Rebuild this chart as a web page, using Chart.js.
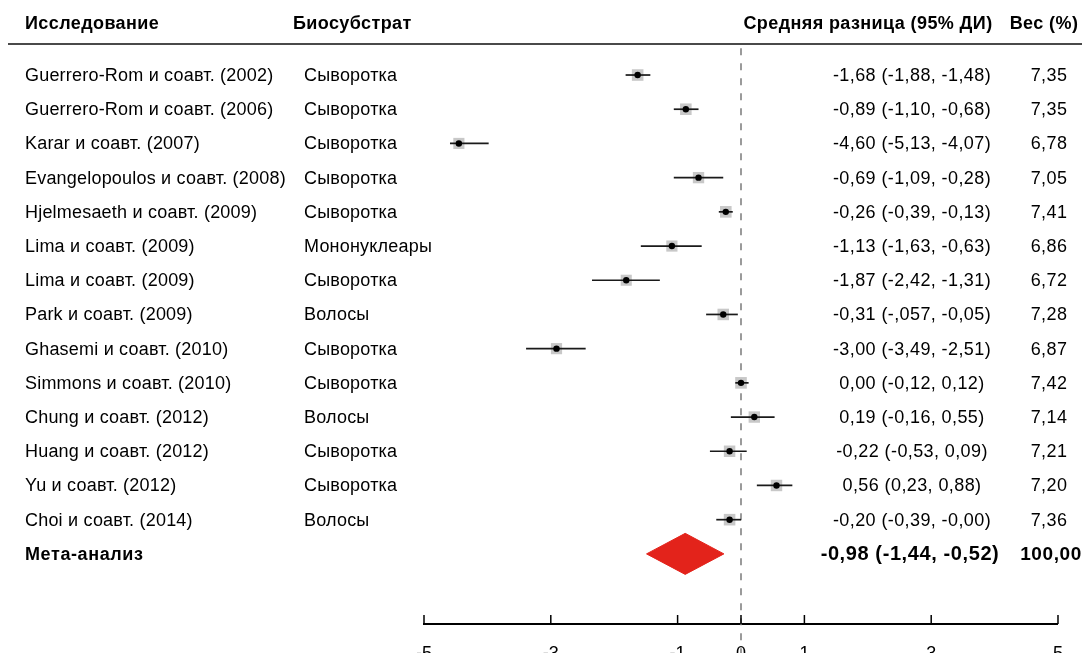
<!DOCTYPE html>
<html>
<head>
<meta charset="utf-8">
<script src="https://cdn.jsdelivr.net/npm/chart.js@4.4.1/dist/chart.umd.min.js"></script>
<style>
  html, body { margin: 0; padding: 0; background: #fff; overflow: hidden; }
  #wrap { width: 1082px; height: 664px; position: relative; }
</style>
</head>
<body>
<div id="wrap"><canvas id="forest"></canvas></div>
<script>
// rows, top to bottom
const studies = [
    'Guerrero-Rom и соавт. (2002)', 'Guerrero-Rom и соавт. (2006)', 'Karar и соавт. (2007)',
    'Evangelopoulos и соавт. (2008)', 'Hjelmesaeth и соавт. (2009)', 'Lima и соавт. (2009)',
    'Lima и соавт. (2009)', 'Park и соавт. (2009)', 'Ghasemi и соавт. (2010)',
    'Simmons и соавт. (2010)', 'Chung и соавт. (2012)', 'Huang и соавт. (2012)',
    'Yu и соавт. (2012)', 'Choi и соавт. (2014)'
];
const substrates = [
    'Сыворотка', 'Сыворотка', 'Сыворотка', 'Сыворотка', 'Сыворотка', 'Мононуклеары',
    'Сыворотка', 'Волосы', 'Сыворотка', 'Сыворотка', 'Волосы', 'Сыворотка',
    'Сыворотка', 'Волосы'
];
// positions of the marks as drawn
const estimates = [-1.63, -0.87, -4.45, -0.67, -0.24, -1.09, -1.81, -0.28, -2.91, 0.00, 0.21, -0.18, 0.56, -0.18];
const lower     = [-1.82, -1.06, -4.59, -1.06, -0.35, -1.58, -2.35, -0.55, -3.39, -0.09, -0.16, -0.49, 0.25, -0.39];
const upper     = [-1.43, -0.67, -3.98, -0.28, -0.13, -0.62, -1.28, -0.05, -2.45, 0.12, 0.53, 0.09, 0.81, 0.00];
// printed column
const mdLabels = [
    '-1,68 (-1,88, -1,48)', '-0,89 (-1,10, -0,68)', '-4,60 (-5,13, -4,07)', '-0,69 (-1,09, -0,28)',
    '-0,26 (-0,39, -0,13)', '-1,13 (-1,63, -0,63)', '-1,87 (-2,42, -1,31)', '-0,31 (-,057, -0,05)',
    '-3,00 (-3,49, -2,51)', '0,00 (-0,12, 0,12)', '0,19 (-0,16, 0,55)', '-0,22 (-0,53, 0,09)',
    '0,56 (0,23, 0,88)', '-0,20 (-0,39, -0,00)'
];
const weights = [7.35, 7.35, 6.78, 7.05, 7.41, 6.86, 6.72, 7.28, 6.87, 7.42, 7.14, 7.21, 7.20, 7.36];

const metaName = 'Мета-анализ';
const metaDiamond = [-1.49, -0.88, -0.27]; // low, centre, high as drawn
const metaText = '-0,98 (-1,44, -0,52)';
const metaWeight = '100,00';

const headers = ['Исследование', 'Биосубстрат', 'Средняя разница (95% ДИ)', 'Вес (%)'];
const xTicks = [-5, -3, -1, 0, 1, 3, 5];

const FONT = "'Liberation Sans', Arial, sans-serif";
Chart.defaults.font.family = FONT;

const metaRow = studies.length;

// one small line dataset per confidence interval
const ciSets = studies.map((s, i) => ({
    type: 'scatter',
    showLine: true,
    data: [{ x: lower[i], y: i }, { x: upper[i], y: i }],
    borderColor: '#1a1a1a',
    borderWidth: 1.7,
    pointRadius: 0,
    order: 1
}));

const squareSet = {
    type: 'scatter',
    data: estimates.map((v, i) => ({ x: v, y: i })),
    pointStyle: 'rect',
    pointRadius: weights.map(w => 8.1 * Math.sqrt(w / 7.2)),
    backgroundColor: '#c8c8c8',
    borderWidth: 0,
    order: 2
};

const dotSet = {
    type: 'scatter',
    data: estimates.map((v, i) => ({ x: v, y: i })),
    pointStyle: 'circle',
    pointRadius: 3.2,
    backgroundColor: '#000',
    borderWidth: 0,
    order: 0
};

const diamondSet = {
    type: 'scatter',
    showLine: true,
    fill: 'shape',
    data: [
        { x: metaDiamond[0], y: metaRow },
        { x: metaDiamond[1], y: metaRow - 0.6 },
        { x: metaDiamond[2], y: metaRow },
        { x: metaDiamond[1], y: metaRow + 0.6 },
        { x: metaDiamond[0], y: metaRow }
    ],
    borderColor: '#e3231b',
    backgroundColor: '#e3231b',
    borderWidth: 1,
    pointRadius: 0,
    order: 3
};

// reference line at zero, runs past the axis like in the figure
const zeroSet = {
    type: 'scatter',
    showLine: true,
    data: [{ x: 0, y: -0.78 }, { x: 0, y: 17.5 }],
    borderColor: '#7a7a7a',
    borderWidth: 1.5,
    borderDash: [7, 8],
    pointRadius: 0,
    clip: false,
    order: 4
};

const tablePlugin = {
    id: 'tableText',
    afterDraw(chart) {
        const ctx = chart.ctx;
        const y = chart.scales.y;
        const x = chart.scales.x;
        ctx.save();

        // header
        ctx.fillStyle = '#000';
        ctx.textBaseline = 'middle';
        ctx.letterSpacing = '0.4px';
        ctx.font = 'bold 18px ' + FONT;
        ctx.textAlign = 'left';
        ctx.fillText(headers[0], 25, 24);
        ctx.fillText(headers[1], 293, 24);
        ctx.textAlign = 'center';
        ctx.fillText(headers[2], 868, 24);
        ctx.fillText(headers[3], 1044, 24);

        ctx.strokeStyle = '#4a4a4a';
        ctx.lineWidth = 2;
        ctx.beginPath();
        ctx.moveTo(8, 44);
        ctx.lineTo(1082, 44);
        ctx.stroke();

        // study rows
        ctx.font = '18px ' + FONT;
        studies.forEach((s, i) => {
            const py = y.getPixelForValue(i) + 1;
            ctx.letterSpacing = '0.2px';
            ctx.textAlign = 'left';
            ctx.fillText(s, 25, py);
            ctx.fillText(substrates[i], 304, py);
            ctx.letterSpacing = '0.4px';
            ctx.textAlign = 'center';
            ctx.fillText(mdLabels[i], 912, py);
            ctx.fillText(weights[i].toFixed(2).replace('.', ','), 1049, py);
        });

        // pooled row
        const my = y.getPixelForValue(metaRow) + 1;
        ctx.font = 'bold 18px ' + FONT;
        ctx.textAlign = 'left';
        ctx.letterSpacing = '0.6px';
        ctx.fillText(metaName, 25, my);
        ctx.textAlign = 'center';
        ctx.font = 'bold 19px ' + FONT;
        ctx.fillText(metaWeight, 1051, my);
        ctx.font = 'bold 20px ' + FONT;
        ctx.fillText(metaText, 910, my);

        // axis tick marks point up from the axis line
        ctx.strokeStyle = '#000';
        ctx.lineWidth = 1.5;
        const b = chart.chartArea.bottom;
        x.ticks.forEach(t => {
            const px = x.getPixelForValue(t.value);
            ctx.beginPath();
            ctx.moveTo(px, b - 9);
            ctx.lineTo(px, b);
            ctx.stroke();
        });
        ctx.restore();
    }
};

new Chart(document.getElementById('forest'), {
    type: 'scatter',
    data: { datasets: [...ciSets, squareSet, dotSet, diamondSet, zeroSet] },
    options: {
        responsive: true,
        maintainAspectRatio: false,
        animation: false,
        layout: { padding: { left: 424, right: 23, top: 48, bottom: 0 } },
        plugins: { legend: { display: false }, tooltip: { enabled: false } },
        scales: {
            x: {
                type: 'linear',
                min: -5,
                max: 5,
                afterBuildTicks: s => { s.ticks = xTicks.map(v => ({ value: v })); },
                afterFit: s => { s.height = 40; },
                grid: { display: false, drawTicks: false },
                border: { display: true, color: '#000', width: 2 },
                ticks: {
                    color: '#000',
                    font: { size: 18 },
                    padding: 19,
                    maxRotation: 0,
                    callback: v => String(v)
                }
            },
            y: {
                type: 'linear',
                reverse: true,
                min: -0.79,
                max: 16.05,
                display: false
            }
        }
    },
    plugins: [tablePlugin]
});
</script>
</body>
</html>
